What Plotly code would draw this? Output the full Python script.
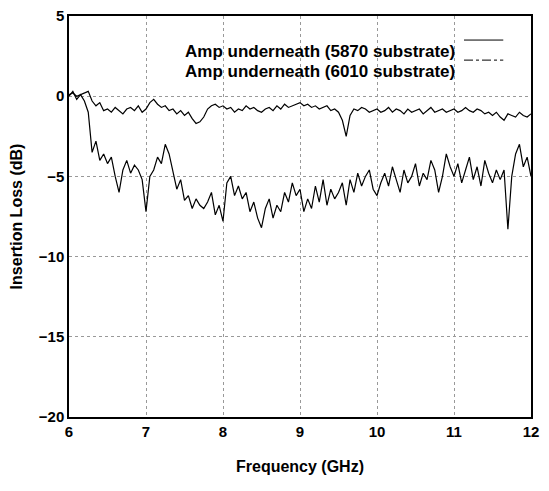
import numpy as np
import plotly.graph_objects as go

freq = np.round(np.arange(6.0, 12.0001, 0.05), 2)

loss_5870 = [0.1, 0.2, 0.0, 0.1, 0.2, 0.3, -0.3, -0.6, -0.4, -0.9,
             -0.8, -1.0, -0.7, -0.9, -1.1, -0.8, -0.7, -0.9, -0.6, -1.0,
             -0.8, -0.4, -0.2, -0.5, -0.7, -0.6, -0.9, -0.8, -1.1, -0.9,
             -1.2, -1.0, -1.4, -1.7, -1.6, -1.3, -0.8, -0.6, -0.5, -0.7,
             -0.6, -0.8, -0.7, -1.0, -0.8, -0.9, -0.6, -0.8, -0.7, -0.9,
             -1.0, -0.8, -0.7, -0.9, -0.6, -0.8, -0.5, -0.7, -0.6, -0.5,
             -0.4, -0.6, -0.5, -0.7, -0.6, -0.8, -0.7, -0.6, -0.9, -0.8,
             -1.0, -1.5, -2.5, -1.2, -0.8, -0.9, -0.7, -0.8, -1.0, -0.9,
             -0.8, -1.0, -0.9, -0.7, -1.0, -0.8, -0.9, -1.1, -0.8, -1.0,
             -0.9, -0.8, -1.1, -0.9, -0.7, -1.0, -0.9, -0.8, -1.0, -0.9,
             -0.8, -1.0, -0.9, -0.7, -0.9, -1.0, -0.8, -0.9, -1.1, -1.0,
             -1.2, -1.0, -1.3, -1.5, -1.1, -1.2, -1.3, -1.0, -1.2, -1.3,
             -1.1]

loss_6010 = [0.0, 0.3, -0.2, 0.1, -0.3, -1.0, -3.5, -2.8, -4.0, -3.6,
             -4.2, -3.8, -5.0, -6.0, -4.6, -4.0, -4.8, -4.3, -4.6, -5.2,
             -7.2, -5.0, -4.6, -3.8, -4.2, -3.0, -3.6, -4.8, -5.8, -5.2,
             -6.5, -6.2, -7.0, -6.4, -6.8, -7.0, -6.6, -6.0, -7.4, -6.8,
             -7.8, -5.4, -5.0, -6.2, -5.6, -6.4, -6.0, -7.2, -6.6, -7.6,
             -8.2, -7.0, -6.4, -7.6, -6.8, -7.2, -6.0, -6.6, -5.4, -6.2,
             -5.8, -7.2, -6.4, -7.0, -5.6, -6.6, -5.2, -6.8, -5.8, -6.4,
             -6.0, -5.4, -6.8, -5.2, -6.0, -4.8, -5.6, -5.0, -4.6, -5.8,
             -6.2, -5.4, -4.8, -5.6, -4.4, -5.2, -6.0, -4.6, -5.4, -5.0,
             -4.2, -5.6, -4.8, -5.2, -4.0, -4.6, -6.0, -5.0, -3.6, -4.4,
             -5.0, -4.2, -5.4, -4.6, -3.8, -5.2, -4.4, -5.6, -4.0, -4.8,
             -5.4, -4.6, -5.2, -4.6, -8.3, -5.0, -3.6, -3.0, -4.4, -3.8,
             -5.0]

names = ["Amp underneath (5870 substrate)", "Amp underneath (6010 substrate)"]

fig = go.Figure()
fig.add_trace(go.Scatter(x=freq, y=loss_5870, mode="lines", line=dict(color="black", width=1.2)))
fig.add_trace(go.Scatter(x=freq, y=loss_6010, mode="lines", line=dict(color="black", width=1.2)))

# legend drawn by hand: text on the left, line sample on the right
for i, (name, dash) in enumerate(zip(names, ["solid", "dashdot"])):
    yy = 0.94 - i * 0.05
    fig.add_annotation(x=0.84, y=yy, xref="paper", yref="paper", text="<b>" + name + "</b>",
                       showarrow=False, xanchor="right", font=dict(size=17, color="black"))
    fig.add_shape(type="line", xref="paper", yref="paper", x0=0.855, x1=0.94, y0=yy, y1=yy,
                  line=dict(color="black", width=1, dash=dash))

axis = dict(showline=True, linecolor="black", linewidth=1.5, mirror=True, ticks="",
            showgrid=True, gridcolor="#999", griddash="dot", zeroline=False, automargin=False,
            ticklabeloverflow="allow",
            tickfont=dict(size=15, color="black", family="Liberation Sans"))

fig.update_layout(
    width=549, height=491, showlegend=False,
    plot_bgcolor="white", paper_bgcolor="white",
    margin=dict(l=61, r=26, t=8, b=82),
    font=dict(family="Liberation Sans", color="black"),
    xaxis=dict(axis, range=[6, 12], dtick=1, tickprefix="<b>", ticksuffix="</b>",
               title=dict(text="<b>Frequency (GHz)</b>", font=dict(size=16), standoff=22)),
    yaxis=dict(axis, range=[-20, 5], dtick=5, tickprefix="<b>", ticksuffix="</b>",
               title=dict(text="<b>Insertion Loss (dB)</b>", font=dict(size=16), standoff=14)),
)

fig.write_html("out.html")
